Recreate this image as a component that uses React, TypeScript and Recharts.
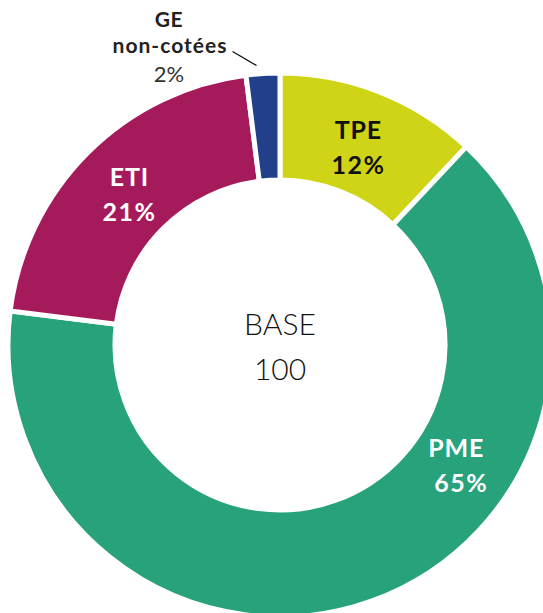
import React from "react";
import { PieChart, Pie, Cell } from "recharts";

const categories = ["TPE", "PME", "ETI", "GE non-cotées"];
const shares = [12, 65, 21, 2];
const colors = ["#CFD516", "#27A27A", "#A51A5B", "#22408A"];
const centerLines = ["BASE", "100"];

const data = categories.map((name, i) => ({ name, value: shares[i] }));

const RAD = Math.PI / 180;
const FONT = "Lato, 'DejaVu Sans', sans-serif";

// label styling per slice (angle shift in degrees, text colour)
const labelStyle: Record<number, { shift: number; color: string; dx: number }> = {
  0: { shift: 0, color: "#111", dx: 0 },
  1: { shift: -36, color: "#fff", dx: 5 },
  2: { shift: 0, color: "#fff", dx: 0 },
};

const renderLabel = (props: any) => {
  const { cx, cy, midAngle, index, payload, value } = props;
  if (index === 3) {
    const r1 = 278;
    const x1 = cx + r1 * Math.cos(-midAngle * RAD) - 6;
    const y1 = cy + r1 * Math.sin(-midAngle * RAD) - 2;
    const x2 = x1 - 24;
    const y2 = y1 - 14;
    const words = String(payload.name).split(" ");
    return (
      <g>
        <line x1={x1} y1={y1} x2={x2} y2={y2} stroke="#111" strokeWidth={1.3} />
        <text x={169} y={27} textAnchor="middle" fontFamily={FONT} fontWeight={700} fontSize={21} fill="#222" letterSpacing={0.5}>
          {words[0]}
        </text>
        <text x={170} y={53} textAnchor="middle" fontFamily={FONT} fontWeight={700} fontSize={21} fill="#222" letterSpacing={1}>
          {words[1]}
        </text>
        <text x={169} y={82} textAnchor="middle" fontFamily={FONT} fontWeight={400} fontSize={22} fill="#333">
          {value}%
        </text>
      </g>
    );
  }
  const st = labelStyle[index];
  const r = 213;
  const a = midAngle - st.shift;
  const x = cx + r * Math.cos(-a * RAD);
  const y = cy + r * Math.sin(-a * RAD);
  return (
    <g>
      <text x={x} y={y - 8} textAnchor="middle" fontFamily={FONT} fontWeight={700} fontSize={25} fill={st.color} letterSpacing={0.8}>
        {payload.name}
      </text>
      <text x={x + st.dx} y={y + 27} textAnchor="middle" fontFamily={FONT} fontWeight={700} fontSize={25} fill={st.color} letterSpacing={1.5}>
        {value}%
      </text>
    </g>
  );
};

export default function App() {
  return (
    <div style={{ position: "absolute", left: 0, top: 0, width: 543, height: 613, background: "#fff" }}>
      <PieChart width={543} height={613} margin={{ top: 0, right: 0, bottom: 0, left: 0 }}>
        <Pie
          data={data}
          dataKey="value"
          nameKey="name"
          cx={280}
          cy={345}
          innerRadius={165}
          outerRadius={272}
          startAngle={90}
          endAngle={-270}
          stroke="#fff"
          strokeWidth={5}
          isAnimationActive={false}
          label={renderLabel}
          labelLine={false}
        >
          {data.map((d, i) => (
            <Cell key={d.name} fill={colors[i]} />
          ))}
        </Pie>
        <text x={280} y={335} textAnchor="middle" fontFamily={FONT} fontWeight={300} fontSize={30} fill="#111">
          {centerLines[0]}
        </text>
        <text x={280} y={380} textAnchor="middle" fontFamily={FONT} fontWeight={300} fontSize={30} fill="#111">
          {centerLines[1]}
        </text>
      </PieChart>
    </div>
  );
}
